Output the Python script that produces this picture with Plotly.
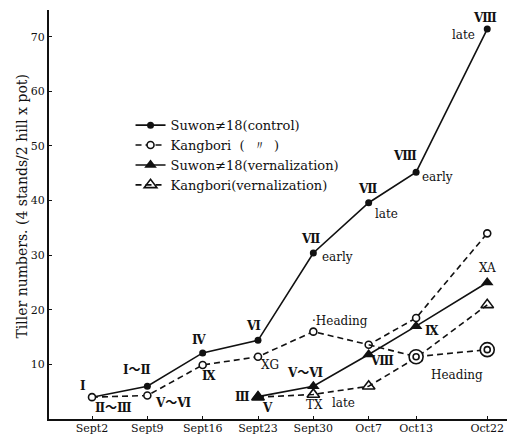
import plotly.graph_objects as go
import pandas as pd

# ---------------- data ----------------
dates = ["1960-09-02", "1960-09-09", "1960-09-16", "1960-09-23",
         "1960-09-30", "1960-10-07", "1960-10-13", "1960-10-22"]
date_labels = ["Sept2", "Sept9", "Sept16", "Sept23", "Sept30", "Oct7", "Oct13", "Oct22"]

suwon_control = [4.0, 6.0, 12.1, 14.4, 30.4, 39.6, 45.2, 71.4]
kangbori_control = [4.0, 4.3, 9.9, 11.4, 16.0, 13.6, 18.5, 34.0]

vern_dates = dates[3:]
suwon_vern = [4.1, 6.0, 11.8, 17.0, 25.0]
kangbori_vern = [4.0, 4.5, 6.0, 11.2, 20.9]

heading_dates = dates[5:]
kangbori_heading = [13.6, 11.4, 12.7]

y_ticks = [10, 20, 30, 40, 50, 60, 70]

series_names = ["Suwon≠18(control)", "Kangbori  (  〃  )",
                "Suwon≠18(vernalization)", "Kangbori(vernalization)"]

# ---------------- figure ----------------
SERIF = "DejaVu Serif, Liberation Serif, serif"
ROMAN = "DejaVu Serif, Noto Sans CJK JP, serif"
DASH = "6px,4px"
BLACK = "#111"

fig = go.Figure()

fig.add_trace(go.Scatter(
    x=dates, y=suwon_control, name=series_names[0], mode="lines+markers",
    line=dict(color=BLACK, width=1.6),
    marker=dict(symbol="circle", size=7, color=BLACK)))

fig.add_trace(go.Scatter(
    x=dates, y=kangbori_control, name=series_names[1], mode="lines+markers",
    line=dict(color=BLACK, width=1.6, dash=DASH),
    marker=dict(symbol="circle", size=7, color="white",
                line=dict(color=BLACK, width=1.6))))

fig.add_trace(go.Scatter(
    x=vern_dates, y=suwon_vern, name=series_names[2], mode="lines+markers",
    line=dict(color=BLACK, width=1.6),
    marker=dict(symbol="triangle-up", size=11, color=BLACK)))

fig.add_trace(go.Scatter(
    x=vern_dates, y=kangbori_vern, name=series_names[3], mode="lines+markers",
    line=dict(color=BLACK, width=1.6, dash=DASH),
    marker=dict(symbol="triangle-up-open", size=11, color=BLACK,
                line=dict(width=1.6))))

# heading branch of Kangbori (double circles)
fig.add_trace(go.Scatter(
    x=heading_dates, y=kangbori_heading, mode="lines", showlegend=False,
    line=dict(color=BLACK, width=1.6, dash=DASH), hoverinfo="skip"))
fig.add_trace(go.Scatter(
    x=heading_dates[1:], y=kangbori_heading[1:], mode="markers", showlegend=False,
    marker=dict(symbol="circle", size=14, color="white",
                line=dict(color=BLACK, width=1.6))))
fig.add_trace(go.Scatter(
    x=heading_dates[1:], y=kangbori_heading[1:], mode="markers", showlegend=False,
    marker=dict(symbol="circle-open", size=6, color=BLACK,
                line=dict(color=BLACK, width=1.6))))

# ---------------- annotations ----------------
base = pd.Timestamp(dates[0])


def d(days):
    return (base + pd.Timedelta(days=days)).strftime("%Y-%m-%d %H:%M")


labels = [
    ("Ⅰ", -1.1, 6.1, "r"), ("Ⅱ～Ⅲ", 2.7, 2.1, "r"), ("Ⅰ～Ⅱ", 5.7, 9.0, "r"),
    ("Ⅴ～Ⅵ", 10.3, 3.0, "r"), ("Ⅳ", 13.5, 14.5, "r"), ("Ⅸ", 14.8, 7.9, "r"),
    ("Ⅵ", 20.4, 17.0, "r"), ("XG", 22.5, 9.8, "t"), ("Ⅲ", 19.1, 4.1, "r"),
    ("Ⅴ", 22.2, 2.1, "r"), ("Ⅶ", 27.6, 33.0, "r"), ("early", 31.0, 29.6, "t"),
    ("·Heading", 31.4, 17.9, "t"), ("Ⅴ～Ⅵ", 27.0, 8.5, "r"), ("TX", 28.2, 2.5, "t"),
    ("late", 31.8, 2.9, "t"), ("Ⅷ", 36.7, 10.7, "r"), ("Ⅸ", 43.0, 16.1, "r"),
    ("Heading", 46.2, 8.1, "t"), ("XA", 50.0, 27.6, "t"), ("Ⅶ", 34.9, 42.1, "r"),
    ("late", 37.3, 37.6, "t"), ("Ⅷ", 39.6, 48.1, "r"), ("early", 43.7, 44.3, "t"),
    ("Ⅷ", 49.7, 73.4, "r"), ("late", 47.0, 70.3, "t"),
]
annotations = []
for text, day, yv, kind in labels:
    annotations.append(dict(
        x=d(day), y=yv, xref="x", yref="y",
        text=f"<b>{text}</b>" if kind == "r" else text, showarrow=False,
        font=dict(family=ROMAN if kind == "r" else SERIF,
                  size=12, color=BLACK),
        xanchor="center", yanchor="middle"))

annotations.append(dict(
    x=-0.061, y=0.5, xref="paper", yref="paper",
    text="Tiller numbers. (4 stands/2 hill x pot)", textangle=-90,
    showarrow=False, font=dict(family=SERIF, size=14, color=BLACK),
    xanchor="center", yanchor="middle", yshift=8))

fig.update_layout(
    width=511, height=439,
    margin=dict(l=49, r=4, t=10, b=17),
    paper_bgcolor="white", plot_bgcolor="white",
    showlegend=True,
    legend=dict(x=0.178, y=0.755, xanchor="left", yanchor="top",
                bgcolor="rgba(0,0,0,0)", tracegroupgap=0,
                font=dict(family=SERIF, size=13, color=BLACK),
                itemwidth=30),
    annotations=annotations,
)

fig.update_xaxes(
    type="date", range=[d(-5.44), d(52.5)],
    tickvals=dates, ticktext=date_labels,
    tickfont=dict(family=SERIF, size=11, color=BLACK),
    ticklabelstandoff=-2,
    showline=True, linecolor=BLACK, linewidth=2, mirror=False,
    ticks="inside", ticklen=3, tickcolor=BLACK, showgrid=False, zeroline=False)

fig.update_yaxes(
    range=[0, 74.9], tickvals=y_ticks,
    tickfont=dict(family=SERIF, size=11, color=BLACK),
    showline=True, linecolor=BLACK, linewidth=2,
    ticks="inside", ticklen=3, tickcolor=BLACK, showgrid=False, zeroline=False)

fig.write_html(
    "out.html",
    config={"displayModeBar": False},
    post_script="document.body.style.margin='0';document.body.style.overflow='hidden';")
